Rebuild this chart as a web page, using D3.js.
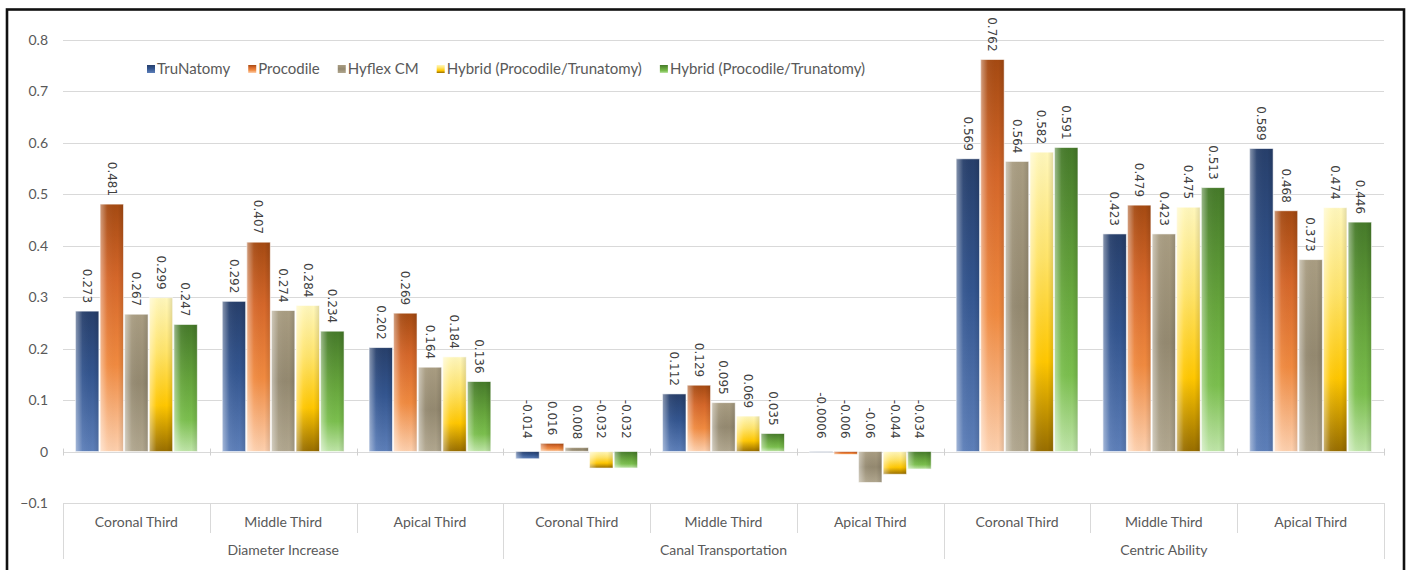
<!DOCTYPE html>
<html>
<head>
<meta charset="utf-8">
<script src="https://cdn.jsdelivr.net/npm/d3@7"></script>
<style>
  html, body { margin: 0; padding: 0; background: #fff; }
  svg { display: block; }
</style>
</head>
<body>
<svg id="chart" width="1410" height="570"></svg>
<script>
// ---- data ----
const groups = ["Diameter Increase", "Canal Transportation", "Centric Ability"];
const thirds = ["Coronal Third", "Middle Third", "Apical Third"];
const seriesNames = ["TruNatomy", "Procodile", "Hyflex CM",
                     "Hybrid (Procodile/Trunatomy)", "Hybrid (Procodile/Trunatomy)"];

// one array per series, 9 values: [group][third] flattened
const truNatomy  = [0.273, 0.292, 0.202, -0.014, 0.112, -0.0006, 0.569, 0.423, 0.589];
const procodile  = [0.481, 0.407, 0.269,  0.016, 0.129, -0.006,  0.762, 0.479, 0.468];
const hyflexCM   = [0.267, 0.274, 0.164,  0.008, 0.095, -0.06,   0.564, 0.423, 0.373];
const hybridA    = [0.299, 0.284, 0.184, -0.032, 0.069, -0.044,  0.582, 0.475, 0.474];
const hybridB    = [0.247, 0.234, 0.136, -0.032, 0.035, -0.034,  0.591, 0.513, 0.446];
const seriesValues = [truNatomy, procodile, hyflexCM, hybridA, hybridB];

const yTicks = [-0.1, 0, 0.1, 0.2, 0.3, 0.4, 0.5, 0.6, 0.7, 0.8];

// ---- gradients (top -> bottom stops per series) ----
const gradStops = [
  [["0%", "#273f6b"], ["45%", "#33558f"], ["100%", "#5d7fb9"]],
  [["0%", "#a54a12"], ["30%", "#d5672a"], ["65%", "#f08a40"], ["100%", "#fdd0ae"]],
  [["0%", "#a99d82"], ["50%", "#948970"], ["100%", "#b1a78f"]],
  [["0%", "#fff7bc"], ["35%", "#ffe46a"], ["70%", "#ffc700"], ["100%", "#976d00"]],
  [["0%", "#467a2a"], ["45%", "#66a53c"], ["75%", "#7bbf4e"], ["100%", "#bfe5a8"]]
];

const svg = d3.select("#chart");
const defs = svg.append("defs");

gradStops.forEach((stops, i) => {
  const g = defs.append("linearGradient")
    .attr("id", "fill" + i)
    .attr("x1", 0).attr("y1", 0).attr("x2", 0).attr("y2", 1);
  stops.forEach(s => g.append("stop").attr("offset", s[0]).attr("stop-color", s[1]));
});
// horizontal sheen: light left edge, slight shade on right edge
const sheen = defs.append("linearGradient")
  .attr("id", "sheen").attr("x1", 0).attr("y1", 0).attr("x2", 1).attr("y2", 0);
sheen.append("stop").attr("offset", "0%").attr("stop-color", "#fff").attr("stop-opacity", 0.45);
sheen.append("stop").attr("offset", "30%").attr("stop-color", "#fff").attr("stop-opacity", 0.05);
sheen.append("stop").attr("offset", "75%").attr("stop-color", "#000").attr("stop-opacity", 0);
sheen.append("stop").attr("offset", "100%").attr("stop-color", "#000").attr("stop-opacity", 0.12);

// ---- scales ----
const plotLeft = 63, plotRight = 1384;
const categories = d3.range(9);
const x0 = d3.scaleBand().domain(categories).range([plotLeft, plotRight]).padding(0);
const x1 = d3.scaleBand().domain(d3.range(5))
  .range([12.5, x0.bandwidth() - 12.5]).paddingInner(0.05).paddingOuter(0);
const y = d3.scaleLinear().domain([-0.1, 0.8]).range([503, 40]);

const labelFont = "Lato, 'Liberation Sans', sans-serif";

// ---- frame ----
svg.append("rect")
  .attr("x", 7).attr("y", 9.5).attr("width", 1397).attr("height", 620)
  .attr("fill", "none").attr("stroke", "#111").attr("stroke-width", 2.6);

// ---- gridlines ----
svg.append("g").selectAll("line").data(yTicks).join("line")
  .attr("x1", plotLeft).attr("x2", plotRight)
  .attr("y1", d => Math.round(y(d)) + 0.5).attr("y2", d => Math.round(y(d)) + 0.5)
  .attr("stroke", "#d9d9d9").attr("stroke-width", 1);

// ---- y axis labels ----
const yAxis = d3.axisLeft(y).tickValues(yTicks).tickSize(0).tickPadding(0)
  .tickFormat(d => d === 0 ? "0" : d3.format("")(+d.toFixed(1)));
const yg = svg.append("g").attr("transform", `translate(${plotLeft - 15},0)`).call(yAxis);
yg.select(".domain").remove();
yg.selectAll("text").attr("font-family", labelFont).attr("font-size", 14)
  .attr("fill", "#595959");

// ---- zero axis ticks at category boundaries ----
const boundaries = d3.range(10).map(i => i < 9 ? x0(i) : plotRight);
svg.append("g").selectAll("line").data(boundaries).join("line")
  .attr("x1", d => Math.round(d) + 0.5).attr("x2", d => Math.round(d) + 0.5)
  .attr("y1", y(0) - 3).attr("y2", y(0) + 4)
  .attr("stroke", "#d0d0d0");

// ---- multi-level category axis (below -0.1) ----
const yBase = y(-0.1);
svg.append("g").selectAll("line").data(boundaries).join("line")
  .attr("x1", d => Math.round(d) + 0.5).attr("x2", d => Math.round(d) + 0.5)
  .attr("y1", yBase)
  .attr("y2", (d, i) => (i % 3 === 0) ? 559 : 533)
  .attr("stroke", "#d9d9d9");

svg.append("g").selectAll("text").data(categories).join("text")
  .attr("x", d => x0(d) + x0.bandwidth() / 2)
  .attr("y", 522)
  .attr("dy", "0.35em")
  .attr("text-anchor", "middle")
  .attr("font-family", labelFont).attr("font-size", 14).attr("fill", "#595959")
  .text(d => thirds[d % 3]);

svg.append("g").selectAll("text").data(groups).join("text")
  .attr("x", (d, i) => (x0(i * 3) + (i === 2 ? plotRight : x0(i * 3 + 3))) / 2)
  .attr("y", 550)
  .attr("dy", "0.35em")
  .attr("text-anchor", "middle")
  .attr("font-family", labelFont).attr("font-size", 14).attr("fill", "#595959")
  .text(d => d);

// ---- bars ----
const barData = [];
categories.forEach(c => seriesValues.forEach((vals, s) => barData.push({ c, s, v: vals[c] })));

const bars = svg.append("g");
const barX = d => x0(d.c) + x1(d.s);
const barY = d => y(Math.max(0, d.v));
const barH = d => Math.max(Math.abs(y(d.v) - y(0)), 0.6);

bars.selectAll("rect.bar").data(barData).join("rect")
  .attr("class", "bar")
  .attr("x", barX).attr("y", barY)
  .attr("width", x1.bandwidth()).attr("height", barH)
  .attr("fill", d => `url(#fill${d.s})`);
bars.selectAll("rect.sheen").data(barData).join("rect")
  .attr("class", "sheen")
  .attr("x", barX).attr("y", barY)
  .attr("width", x1.bandwidth()).attr("height", barH)
  .attr("fill", "url(#sheen)")
  .attr("stroke", "#ffffff").attr("stroke-opacity", 0.7).attr("stroke-width", 0.8);

// ---- value labels (rotated, reading downward) ----
svg.append("g").selectAll("text").data(barData).join("text")
  .attr("transform", d => `translate(${barX(d) + x1.bandwidth() / 2},${y(Math.max(0, d.v)) - (d.v < 0 ? 13 : 8)}) rotate(90)`)
  .attr("text-anchor", "end")
  .attr("dy", "0.35em")
  .attr("font-family", "'DejaVu Sans', sans-serif").attr("font-size", 12)
  .attr("fill", "#404040")
  .text(d => String(d.v).replace(/^0\.0006$/, "0.0006").replace(/^-0\.0006$/, "-0.0006"));

// ---- legend ----
const legend = svg.append("g").attr("transform", "translate(147,69)");
let lx = 0;
seriesNames.forEach((name, i) => {
  const item = legend.append("g").attr("transform", `translate(${lx},0)`);
  item.append("rect").attr("x", 0).attr("y", -4).attr("width", 8).attr("height", 8)
    .attr("fill", `url(#fill${i})`);
  const t = item.append("text").attr("x", 10).attr("y", 0).attr("dy", "0.35em")
    .attr("font-family", labelFont).attr("font-size", 15).attr("fill", "#595959")
    .text(name);
  lx += 10 + t.node().getComputedTextLength() + 18;
});
</script>
</body>
</html>
